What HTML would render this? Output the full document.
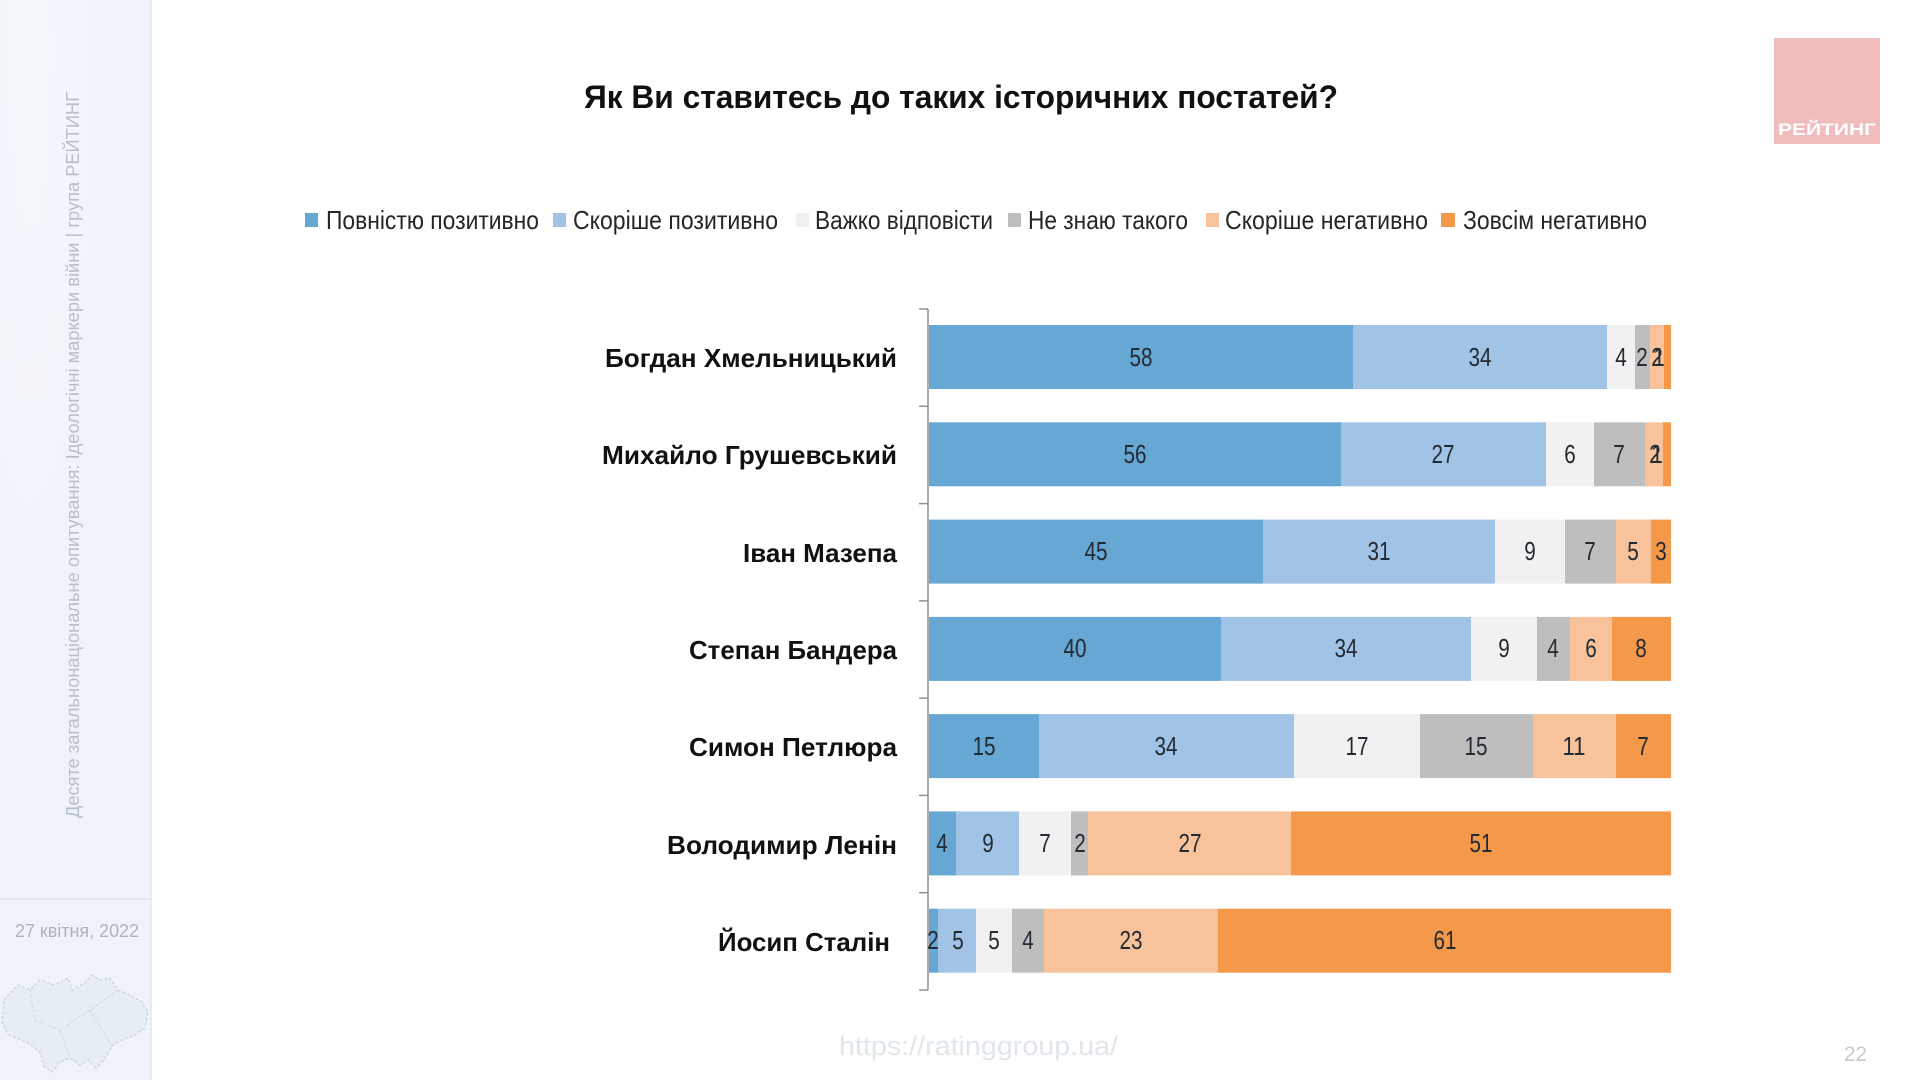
<!DOCTYPE html>
<html>
<head>
<meta charset="utf-8">
<style>
  html, body { margin:0; padding:0; background:#ffffff; }
  body { width:1920px; height:1080px; overflow:hidden; }
  svg { display:block; }
  text { font-family: "Liberation Sans", "Noto Sans CJK SC", sans-serif; }
</style>
</head>
<body>
<svg width="1920" height="1080" viewBox="0 0 1920 1080" xmlns="http://www.w3.org/2000/svg">
  <defs>
    <radialGradient id="glow" cx="0.2" cy="0.05" r="0.6">
      <stop offset="0" stop-color="#fbfcfe"/>
      <stop offset="1" stop-color="#eff3f9"/>
    </radialGradient>
  </defs>

  <rect x="0" y="0" width="1920" height="1080" fill="#ffffff"/>

  <!-- left sidebar -->
  <rect x="0" y="0" width="151" height="1080" fill="url(#glow)"/>
  <rect x="0" y="0" width="151" height="1080" fill="#eff3f9" opacity="0.55"/>
  <line x1="151" y1="0" x2="151" y2="1080" stroke="#e6ebf2" stroke-width="2"/>
  <line x1="0" y1="899" x2="151" y2="899" stroke="#dde3ea" stroke-width="1.5"/>
  <text transform="translate(79,818) rotate(-90)" font-size="18" fill="#b6bfcb" textLength="726" lengthAdjust="spacingAndGlyphs">Десяте загальнонаціональне опитування: Ідеологічні маркери війни  |  група РЕЙТИНГ</text>
  <text x="15" y="937" font-size="18" fill="#aab3be" textLength="124" lengthAdjust="spacingAndGlyphs">27 квітня, 2022</text>

  <!-- faint map of Ukraine -->
  <path d="M4,1000 L18,985 L30,990 L40,980 L55,985 L68,978 L72,990 L85,983 L92,975 L100,980 L110,978 L118,990 L130,995 L142,1002 L148,1012 L145,1028 L135,1035 L122,1040 L112,1046 L104,1060 L96,1068 L88,1060 L80,1065 L70,1058 L60,1062 L52,1072 L44,1066 L40,1052 L30,1044 L20,1040 L8,1034 L2,1022 Z"
        fill="#e6edf3" stroke="#c9d3dc" stroke-width="1.2" stroke-dasharray="3,2"/>
  <path d="M30,990 L35,1020 L60,1030 L90,1010 L118,990 M60,1030 L70,1058 M90,1010 L112,1046" fill="none" stroke="#d0d9e0" stroke-width="1" stroke-dasharray="3,2"/>

  <!-- title -->
  <text x="584" y="108" font-size="32" font-weight="bold" fill="#111111" textLength="754" lengthAdjust="spacingAndGlyphs">Як Ви ставитесь до таких історичних постатей?</text>

  <!-- logo -->
  <rect x="1774" y="38" width="106" height="106" fill="#efbdbe"/>
  <text x="1827" y="135" font-size="17" font-weight="bold" fill="#ffffff" text-anchor="middle" textLength="98" lengthAdjust="spacingAndGlyphs">РЕЙТИНГ</text>

  <!-- legend -->
  <g font-size="26" fill="#262626">
    <rect x="305" y="213" width="13" height="14" fill="#66a7d4"/>
    <text x="326" y="229" textLength="213" lengthAdjust="spacingAndGlyphs">Повністю позитивно</text>
    <rect x="553" y="213" width="13" height="14" fill="#a1c3e6"/>
    <text x="573" y="229" textLength="205" lengthAdjust="spacingAndGlyphs">Скоріше позитивно</text>
    <rect x="796" y="213" width="13" height="14" fill="#f1f1f1"/>
    <text x="815" y="229" textLength="178" lengthAdjust="spacingAndGlyphs">Важко відповісти</text>
    <rect x="1008" y="213" width="13" height="14" fill="#bebebe"/>
    <text x="1028" y="229" textLength="160" lengthAdjust="spacingAndGlyphs">Не знаю такого</text>
    <rect x="1206" y="213" width="13" height="14" fill="#f8c39a"/>
    <text x="1225" y="229" textLength="203" lengthAdjust="spacingAndGlyphs">Скоріше негативно</text>
    <rect x="1441" y="213" width="14" height="14" fill="#f4994a"/>
    <text x="1463" y="229" textLength="184" lengthAdjust="spacingAndGlyphs">Зовсім негативно</text>
  </g>

  <!-- axis -->
  <g stroke="#8f8f8f" stroke-width="1.5">
    <line x1="928" y1="309" x2="928" y2="990"/>
    <line x1="919" y1="309" x2="928" y2="309"/>
    <line x1="919" y1="406.3" x2="928" y2="406.3"/>
    <line x1="919" y1="503.6" x2="928" y2="503.6"/>
    <line x1="919" y1="600.9" x2="928" y2="600.9"/>
    <line x1="919" y1="698.1" x2="928" y2="698.1"/>
    <line x1="919" y1="795.4" x2="928" y2="795.4"/>
    <line x1="919" y1="892.7" x2="928" y2="892.7"/>
    <line x1="919" y1="990" x2="928" y2="990"/>
  </g>

  <!-- row labels -->
  <g font-size="26" font-weight="bold" fill="#111111" text-anchor="end">
    <text x="897" y="367" textLength="292" lengthAdjust="spacingAndGlyphs">Богдан Хмельницький</text>
    <text x="897" y="464" textLength="295" lengthAdjust="spacingAndGlyphs">Михайло Грушевський</text>
    <text x="897" y="562" textLength="154" lengthAdjust="spacingAndGlyphs">Іван Мазепа</text>
    <text x="897" y="659" textLength="208" lengthAdjust="spacingAndGlyphs">Степан Бандера</text>
    <text x="897" y="756" textLength="208" lengthAdjust="spacingAndGlyphs">Симон Петлюра</text>
    <text x="897" y="854" textLength="230" lengthAdjust="spacingAndGlyphs">Володимир Ленін</text>
    <text x="890" y="951" textLength="172" lengthAdjust="spacingAndGlyphs">Йосип Сталін</text>
  </g>

  <!-- bars -->
  <g>
    <rect x="929" y="325" width="424" height="64" fill="#66a7d4"/>
    <rect x="1353" y="325" width="254" height="64" fill="#a1c3e6"/>
    <rect x="1607" y="325" width="28" height="64" fill="#f1f1f1"/>
    <rect x="1635" y="325" width="15" height="64" fill="#bebebe"/>
    <rect x="1650" y="325" width="14" height="64" fill="#f8c39a"/>
    <rect x="1664" y="325" width="7" height="64" fill="#f4994a"/>
  </g>
  <g>
    <rect x="929" y="422.3" width="412" height="64" fill="#66a7d4"/>
    <rect x="1341" y="422.3" width="205" height="64" fill="#a1c3e6"/>
    <rect x="1546" y="422.3" width="48" height="64" fill="#f1f1f1"/>
    <rect x="1594" y="422.3" width="51" height="64" fill="#bebebe"/>
    <rect x="1645" y="422.3" width="18" height="64" fill="#f8c39a"/>
    <rect x="1663" y="422.3" width="8" height="64" fill="#f4994a"/>
  </g>
  <g>
    <rect x="929" y="519.6" width="334" height="64" fill="#66a7d4"/>
    <rect x="1263" y="519.6" width="232" height="64" fill="#a1c3e6"/>
    <rect x="1495" y="519.6" width="70" height="64" fill="#f1f1f1"/>
    <rect x="1565" y="519.6" width="51" height="64" fill="#bebebe"/>
    <rect x="1616" y="519.6" width="35" height="64" fill="#f8c39a"/>
    <rect x="1651" y="519.6" width="20" height="64" fill="#f4994a"/>
  </g>
  <g>
    <rect x="929" y="616.9" width="292" height="64" fill="#66a7d4"/>
    <rect x="1221" y="616.9" width="250" height="64" fill="#a1c3e6"/>
    <rect x="1471" y="616.9" width="66" height="64" fill="#f1f1f1"/>
    <rect x="1537" y="616.9" width="33" height="64" fill="#bebebe"/>
    <rect x="1570" y="616.9" width="42" height="64" fill="#f8c39a"/>
    <rect x="1612" y="616.9" width="59" height="64" fill="#f4994a"/>
  </g>
  <g>
    <rect x="929" y="714.1" width="110" height="64" fill="#66a7d4"/>
    <rect x="1039" y="714.1" width="255" height="64" fill="#a1c3e6"/>
    <rect x="1294" y="714.1" width="126" height="64" fill="#f1f1f1"/>
    <rect x="1420" y="714.1" width="113" height="64" fill="#bebebe"/>
    <rect x="1533" y="714.1" width="83" height="64" fill="#f8c39a"/>
    <rect x="1616" y="714.1" width="55" height="64" fill="#f4994a"/>
  </g>
  <g>
    <rect x="929" y="811.4" width="27" height="64" fill="#66a7d4"/>
    <rect x="956" y="811.4" width="63" height="64" fill="#a1c3e6"/>
    <rect x="1019" y="811.4" width="52" height="64" fill="#f1f1f1"/>
    <rect x="1071" y="811.4" width="17" height="64" fill="#bebebe"/>
    <rect x="1088" y="811.4" width="203" height="64" fill="#f8c39a"/>
    <rect x="1291" y="811.4" width="380" height="64" fill="#f4994a"/>
  </g>
  <g>
    <rect x="929" y="908.7" width="9" height="64" fill="#66a7d4"/>
    <rect x="938" y="908.7" width="38" height="64" fill="#a1c3e6"/>
    <rect x="976" y="908.7" width="36" height="64" fill="#f1f1f1"/>
    <rect x="1012" y="908.7" width="32" height="64" fill="#bebebe"/>
    <rect x="1044" y="908.7" width="174" height="64" fill="#f8c39a"/>
    <rect x="1218" y="908.7" width="453" height="64" fill="#f4994a"/>
  </g>

  <!-- data labels -->
  <g font-size="26" fill="#222a33" text-anchor="middle">
    <text x="1141" y="366" textLength="23" lengthAdjust="spacingAndGlyphs">58</text>
    <text x="1480" y="366" textLength="23" lengthAdjust="spacingAndGlyphs">34</text>
    <text x="1621" y="366" textLength="11.5" lengthAdjust="spacingAndGlyphs">4</text>
    <text x="1642" y="366" textLength="11.5" lengthAdjust="spacingAndGlyphs">2</text>
    <text x="1657" y="366" textLength="11.5" lengthAdjust="spacingAndGlyphs">2</text>
    <text x="1659" y="366" textLength="11.5" lengthAdjust="spacingAndGlyphs">1</text>

    <text x="1135" y="463" textLength="23" lengthAdjust="spacingAndGlyphs">56</text>
    <text x="1443" y="463" textLength="23" lengthAdjust="spacingAndGlyphs">27</text>
    <text x="1570" y="463" textLength="11.5" lengthAdjust="spacingAndGlyphs">6</text>
    <text x="1619" y="463" textLength="11.5" lengthAdjust="spacingAndGlyphs">7</text>
    <text x="1655" y="463" textLength="11.5" lengthAdjust="spacingAndGlyphs">2</text>
    <text x="1657" y="463" textLength="11.5" lengthAdjust="spacingAndGlyphs">1</text>

    <text x="1096" y="560" textLength="23" lengthAdjust="spacingAndGlyphs">45</text>
    <text x="1379" y="560" textLength="23" lengthAdjust="spacingAndGlyphs">31</text>
    <text x="1530" y="560" textLength="11.5" lengthAdjust="spacingAndGlyphs">9</text>
    <text x="1590" y="560" textLength="11.5" lengthAdjust="spacingAndGlyphs">7</text>
    <text x="1633" y="560" textLength="11.5" lengthAdjust="spacingAndGlyphs">5</text>
    <text x="1661" y="560" textLength="11.5" lengthAdjust="spacingAndGlyphs">3</text>

    <text x="1075" y="657" textLength="23" lengthAdjust="spacingAndGlyphs">40</text>
    <text x="1346" y="657" textLength="23" lengthAdjust="spacingAndGlyphs">34</text>
    <text x="1504" y="657" textLength="11.5" lengthAdjust="spacingAndGlyphs">9</text>
    <text x="1553" y="657" textLength="11.5" lengthAdjust="spacingAndGlyphs">4</text>
    <text x="1591" y="657" textLength="11.5" lengthAdjust="spacingAndGlyphs">6</text>
    <text x="1641" y="657" textLength="11.5" lengthAdjust="spacingAndGlyphs">8</text>

    <text x="984" y="755" textLength="23" lengthAdjust="spacingAndGlyphs">15</text>
    <text x="1166" y="755" textLength="23" lengthAdjust="spacingAndGlyphs">34</text>
    <text x="1357" y="755" textLength="23" lengthAdjust="spacingAndGlyphs">17</text>
    <text x="1476" y="755" textLength="23" lengthAdjust="spacingAndGlyphs">15</text>
    <text x="1574" y="755" textLength="23" lengthAdjust="spacingAndGlyphs">11</text>
    <text x="1643" y="755" textLength="11.5" lengthAdjust="spacingAndGlyphs">7</text>

    <text x="942" y="852" textLength="11.5" lengthAdjust="spacingAndGlyphs">4</text>
    <text x="988" y="852" textLength="11.5" lengthAdjust="spacingAndGlyphs">9</text>
    <text x="1045" y="852" textLength="11.5" lengthAdjust="spacingAndGlyphs">7</text>
    <text x="1080" y="852" textLength="11.5" lengthAdjust="spacingAndGlyphs">2</text>
    <text x="1190" y="852" textLength="23" lengthAdjust="spacingAndGlyphs">27</text>
    <text x="1481" y="852" textLength="23" lengthAdjust="spacingAndGlyphs">51</text>

    <text x="933" y="949" textLength="11.5" lengthAdjust="spacingAndGlyphs">2</text>
    <text x="958" y="949" textLength="11.5" lengthAdjust="spacingAndGlyphs">5</text>
    <text x="994" y="949" textLength="11.5" lengthAdjust="spacingAndGlyphs">5</text>
    <text x="1028" y="949" textLength="11.5" lengthAdjust="spacingAndGlyphs">4</text>
    <text x="1131" y="949" textLength="23" lengthAdjust="spacingAndGlyphs">23</text>
    <text x="1445" y="949" textLength="23" lengthAdjust="spacingAndGlyphs">61</text>
  </g>

  <!-- footer -->
  <text x="839" y="1055" font-size="27" fill="#e1e6eb" textLength="279" lengthAdjust="spacingAndGlyphs">https://ratinggroup.ua/</text>
  <text x="1844" y="1061" font-size="21" fill="#c3cad3" textLength="23" lengthAdjust="spacingAndGlyphs">22</text>
</svg>
</body>
</html>
